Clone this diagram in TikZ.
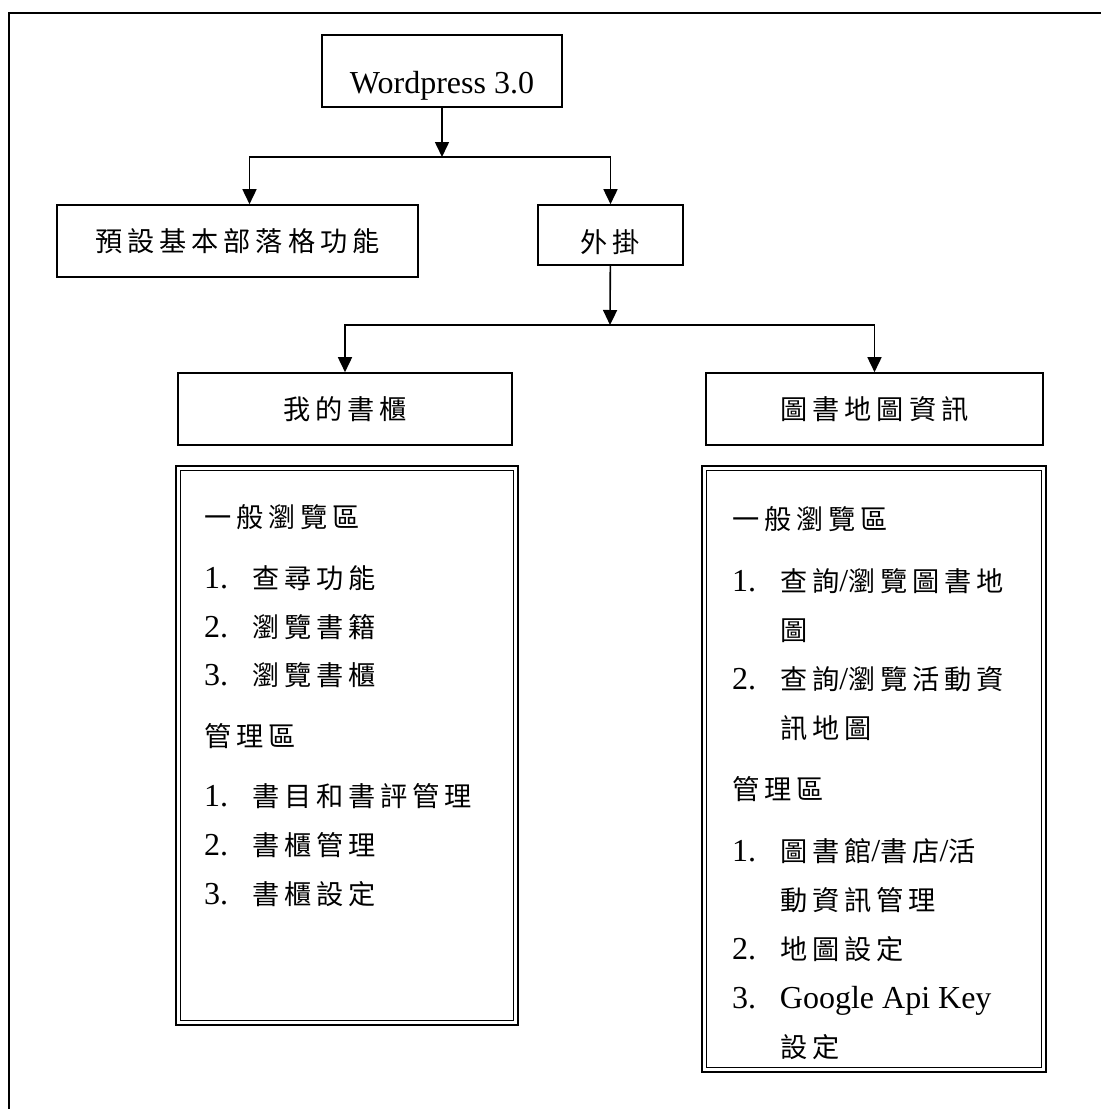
\documentclass[tikz,border=0pt]{standalone}
\usepackage{fontspec}
\setmainfont{Liberation Serif}
\newfontfamily\zhfont[Scale=0.85,LetterSpace=18]{Noto Sans CJK TC}
\newcommand{\zh}[1]{{\zhfont #1}}
\newcommand{\itemno}[1]{\makebox[24pt][l]{#1}}
\usetikzlibrary{arrows.meta,positioning}

\begin{document}
\begin{tikzpicture}[x=0.5pt,y=-0.5pt,
        font=\fontsize{16pt}{24pt}\selectfont,
        arrow/.style={draw,line width=0.8pt,-{Triangle[width=7pt,length=7.5pt]}},
        listbox/.style={draw,line width=1.4pt,inner sep=0pt,
            append after command={\pgfextra{\draw[line width=0.8pt]
                ([shift={(3pt,-3pt)}]\tikzlastnode.north west) rectangle
                ([shift={(-3pt,3pt)}]\tikzlastnode.south east);}}},
        listtext/.style={align=left,inner sep=0pt}]
        \useasboundingbox (0,0) rectangle (1101,1109);
        \draw[line width=1pt] (9,1109) -- (9,13) -- (1101,13);
        \begin{scope}[every node/.style={draw,line width=0.8pt,inner sep=0pt}]
            \node[minimum width=120pt,minimum height=36pt,text height=23pt,text depth=1pt] (wp) at (442,71) {Wordpress 3.0};
            \node[minimum width=180.5pt,minimum height=36pt] (basic) at (237.5,241) {\zh{預設基本部落格功能}};
            \node[minimum width=72.5pt,minimum height=30pt,text height=18pt,text depth=0.6pt] (plugin) at (610.5,235) {\zh{外掛}};
            \node[minimum width=167pt,minimum height=36pt] (shelf) at (345,409) {\zh{我的書櫃}};
            \node[minimum width=168.5pt,minimum height=36pt] (map) at (874.5,409) {\zh{圖書地圖資訊}};
        \end{scope}
        \node[listbox,minimum width=171pt,minimum height=279.5pt] (shelfbox) at (347,745.5) {};
        \node[listbox,minimum width=172pt,minimum height=303pt] (mapbox) at (874,769) {};
        \node[listtext,below right=20pt and 14.5pt of shelfbox.north west,
            font=\fontsize{16pt}{24.3pt}\selectfont] (shelftext) {
            \zh{一般瀏覽區}\\[6pt]
            \itemno{1.}\zh{查尋功能}\\
            \itemno{2.}\zh{瀏覽書籍}\\
            \itemno{3.}\zh{瀏覽書櫃}\\[6pt]
            \zh{管理區}\\[6pt]
            \itemno{1.}\zh{書目和書評管理}\\
            \itemno{2.}\zh{書櫃管理}\\
            \itemno{3.}\zh{書櫃設定}};
        \node[listtext,below right=21pt and 15.5pt of mapbox.north west,
            font=\fontsize{16pt}{24.6pt}\selectfont] (maptext) {
            \zh{一般瀏覽區}\\[6pt]
            \itemno{1.}\zh{查詢}/\zh{瀏覽圖書地}\\
            \itemno{}\zh{圖}\\
            \itemno{2.}\zh{查詢}/\zh{瀏覽活動資}\\
            \itemno{}\zh{訊地圖}\\[6pt]
            \zh{管理區}\\[6pt]
            \itemno{1.}\zh{圖書館}/\zh{書店}/\zh{活}\\
            \itemno{}\zh{動資訊管理}\\
            \itemno{2.}\zh{地圖設定}\\
            \itemno{3.}Google Api Key\\
            \itemno{}\zh{設定}};
        \coordinate (split1) at (442,157);
        \coordinate (split2) at (610,325);
        \draw[arrow] (wp) -- (split1);
        \draw[arrow] (split1) -| ([xshift=6pt]basic.north);
        \draw[arrow] (split1) -| (plugin);
        \draw[arrow] (plugin) -- (split2);
        \draw[arrow] (split2) -| (shelf);
        \draw[arrow] (split2) -| (map);
    \end{tikzpicture}
\end{document}
